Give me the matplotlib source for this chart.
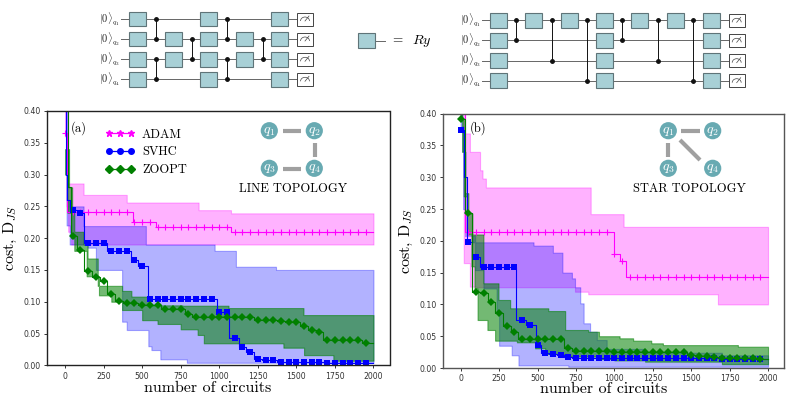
import numpy as np
import matplotlib
matplotlib.use('Agg')
import matplotlib.pyplot as plt
from matplotlib.lines import Line2D
from matplotlib.patches import Circle, Rectangle, Arc

plt.rcParams['mathtext.fontset'] = 'cm'
plt.rcParams['axes.unicode_minus'] = False

W, H = 789, 396
SERIES = ['ADAM', 'SVHC', 'ZOOPT']
COLORS = {'ADAM': 'magenta', 'SVHC': 'blue', 'ZOOPT': 'green'}
MARKERS = {'ADAM': '+', 'SVHC': 's', 'ZOOPT': 'D'}
ALPHAS = {'ADAM': 0.3, 'SVHC': 0.3, 'ZOOPT': 0.55}

# ---- panel (a), step breakpoints
a_adam_x = [0, 15, 440, 590, 1075]
a_adam_y = [0.365, 0.241, 0.225, 0.217, 0.21]
a_adam_hi_x = [0, 20, 119, 400, 865, 1075]
a_adam_hi_y = [0.41, 0.286, 0.268, 0.256, 0.244, 0.239]
a_adam_lo_x = [0, 10, 20, 40]
a_adam_lo_y = [0.36, 0.25, 0.21, 0.19]

a_svhc_x = [0, 5, 15, 30, 75, 125, 275, 425, 475, 535, 985, 1065, 1125, 1175, 1225, 1275, 1375, 1425, 1700]
a_svhc_y = [0.45, 0.30, 0.26, 0.245, 0.24, 0.193, 0.18, 0.166, 0.156, 0.105, 0.0844, 0.0435, 0.028, 0.0214,
            0.0099, 0.0083, 0.0057, 0.0045, 0.003]
a_svhc_hi_x = [0, 10, 25, 119, 524, 970, 1108, 1368]
a_svhc_hi_y = [0.41, 0.26, 0.25, 0.219, 0.19, 0.18, 0.155, 0.15]
a_svhc_lo_x = [0, 10, 30, 146, 200, 370, 400, 540, 560, 617, 790]
a_svhc_lo_y = [0.40, 0.22, 0.19, 0.185, 0.15, 0.0686, 0.0555, 0.03, 0.024, 0.0094, 0.004]

a_zoopt_x = [0, 20, 40, 75, 125, 175, 225, 275, 325, 375, 475, 625, 775, 825, 1225, 1375, 1425, 1525, 1575,
             1625, 1675, 1925]
a_zoopt_y = [0.41, 0.28, 0.2034, 0.182, 0.148, 0.139, 0.1325, 0.1127, 0.1016, 0.0975, 0.0943, 0.088, 0.0807,
             0.076, 0.0707, 0.069, 0.068, 0.0618, 0.055, 0.0524, 0.0398, 0.0345]
a_zoopt_hi_x = [0, 25, 45, 60, 120, 146, 212, 370, 430, 550, 760, 1060, 1545]
a_zoopt_hi_y = [0.34, 0.28, 0.245, 0.21, 0.19, 0.168, 0.125, 0.117, 0.108, 0.0943, 0.0937, 0.09, 0.079]
a_zoopt_lo_x = [0, 15, 40, 60, 140, 220, 300, 370, 500, 600, 750, 860, 900, 1415, 1550, 1740]
a_zoopt_lo_y = [0.30, 0.24, 0.20, 0.18, 0.14, 0.11, 0.10, 0.087, 0.071, 0.065, 0.0566, 0.0477, 0.0346,
                0.0277, 0.016, 0.0072]

# ---- panel (b), step breakpoints
b_adam_x = [0, 25, 1000, 1040, 1075]
b_adam_y = [0.45, 0.2134, 0.18, 0.169, 0.1436]
b_adam_hi_x = [0, 28, 60, 126, 141, 163, 846, 1060]
b_adam_hi_y = [0.41, 0.369, 0.34, 0.311, 0.298, 0.284, 0.242, 0.222]
b_adam_lo_x = [0, 20, 60, 100, 744, 830, 1673]
b_adam_lo_y = [0.39, 0.165, 0.128, 0.127, 0.12, 0.116, 0.10]

b_svhc_x = [0, 20, 40, 75, 125, 358, 425, 488, 525, 575, 625, 675, 725, 1000, 1700]
b_svhc_y = [0.375, 0.30, 0.1977, 0.174, 0.1584, 0.0755, 0.0676, 0.036, 0.023, 0.0222, 0.0209, 0.0178, 0.0165,
            0.016, 0.0142]
b_svhc_hi_x = [0, 10, 30, 75, 473, 599, 662, 723, 744, 777, 799, 842, 885, 950, 1200, 1700]
b_svhc_hi_y = [0.40, 0.34, 0.208, 0.1977, 0.1925, 0.1814, 0.15, 0.141, 0.127, 0.1017, 0.0703, 0.0571, 0.044,
               0.03, 0.024, 0.02]
b_svhc_lo_x = [0, 15, 30, 93, 148, 234, 250, 332, 375, 700]
b_svhc_lo_y = [0.38, 0.25, 0.208, 0.154, 0.125, 0.09, 0.035, 0.02, 0.004, 0.002]

b_zoopt_x = [0, 25, 75, 125, 175, 225, 275, 325, 375, 675, 725, 825, 1000, 1475, 1525, 1625, 1675, 1775, 1925]
b_zoopt_y = [0.392, 0.2433, 0.1195, 0.1175, 0.1043, 0.0865, 0.0655, 0.0562, 0.0456, 0.032, 0.027, 0.0265,
             0.0257, 0.0204, 0.019, 0.0168, 0.0155, 0.015, 0.0142]
b_zoopt_hi_x = [0, 10, 30, 50, 75, 148, 245, 321, 570, 679, 830, 900, 1034, 1121, 1240, 1316, 1803]
b_zoopt_hi_y = [0.40, 0.34, 0.275, 0.243, 0.21, 0.1332, 0.107, 0.0939, 0.0896, 0.0598, 0.057, 0.05, 0.0467,
                0.043, 0.0388, 0.036, 0.0335]
b_zoopt_lo_x = [0, 20, 40, 70, 90, 110, 174, 224, 365, 484, 550, 700, 900, 1000, 1200, 1700]
b_zoopt_lo_y = [0.39, 0.27, 0.21, 0.16, 0.125, 0.0755, 0.0598, 0.043, 0.0404, 0.031, 0.022, 0.018, 0.014,
                0.012, 0.01, 0.006]

PANEL_A = {'ADAM': (a_adam_x, a_adam_y, a_adam_lo_x, a_adam_lo_y, a_adam_hi_x, a_adam_hi_y),
           'SVHC': (a_svhc_x, a_svhc_y, a_svhc_lo_x, a_svhc_lo_y, a_svhc_hi_x, a_svhc_hi_y),
           'ZOOPT': (a_zoopt_x, a_zoopt_y, a_zoopt_lo_x, a_zoopt_lo_y, a_zoopt_hi_x, a_zoopt_hi_y)}
PANEL_B = {'ADAM': (b_adam_x, b_adam_y, b_adam_lo_x, b_adam_lo_y, b_adam_hi_x, b_adam_hi_y),
           'SVHC': (b_svhc_x, b_svhc_y, b_svhc_lo_x, b_svhc_lo_y, b_svhc_hi_x, b_svhc_hi_y),
           'ZOOPT': (b_zoopt_x, b_zoopt_y, b_zoopt_lo_x, b_zoopt_lo_y, b_zoopt_hi_x, b_zoopt_hi_y)}

x_ticks = [0, 250, 500, 750, 1000, 1250, 1500, 1750, 2000]
y_ticks = [0.0, 0.05, 0.10, 0.15, 0.20, 0.25, 0.30, 0.35, 0.40]
GRID = np.arange(0, 2001, 2)
MARK_X = np.arange(0, 2001, 50)


def step_at(xs, bx, by):
    idx = np.searchsorted(bx, xs, side='right') - 1
    return np.asarray(by)[idx]


def draw_panel(ax, panel, tag, tag_x, tag_y, xlabel_at, spine_color):
    for name in SERIES:
        x, y, lo_x, lo_y, hi_x, hi_y = panel[name]
        c = COLORS[name]
        ax.step(x + [2000], y + [y[-1]], where='post', color=c, lw=0.8)
        # markers sit on every 50th circuit, last one at 1950
        mx = MARK_X[:-1]
        ax.plot(mx, step_at(mx, x, y), ls='', marker=MARKERS[name], color=c, ms=4.0 if name != 'ADAM' else 4.5,
                mew=0.8 if name == 'ADAM' else 0)
        ax.fill_between(GRID, step_at(GRID, lo_x, lo_y), step_at(GRID, hi_x, hi_y), color=c,
                        alpha=ALPHAS[name], lw=0.8, step='post')
    ax.set_xlim(-117, 2104)
    ax.set_ylim(0, 0.40)
    ax.set_xticks(x_ticks)
    ax.set_yticks(y_ticks)
    ax.set_yticklabels(['%.2f' % v for v in y_ticks])
    ax.tick_params(labelsize=5.6, length=2.5, width=0.7, pad=2, color='#333333', labelcolor='#333333')
    for s in ax.spines.values():
        s.set_linewidth(1.0)
        s.set_color(spine_color)
    ax.set_xlabel('number of circuits', family='cmr10', fontsize=11.5, va='center')
    ax.xaxis.set_label_coords(*xlabel_at)
    ax.set_ylabel(r'cost, $\mathrm{D}_{JS}$', family='cmr10', fontsize=11.5, labelpad=3)
    ax.text(tag_x, tag_y, tag, family='cmr10', fontsize=9, va='center')


def px_axes(l, t, r, b):
    return fig.add_axes([l / W, 1 - b / H, (r - l) / W, (b - t) / H])


fig = plt.figure(figsize=(W / 100, H / 100), dpi=100)
ax_a = px_axes(47, 111, 389.5, 365.3)
ax_b = px_axes(442.7, 113.7, 784, 368)
draw_panel(ax_a, PANEL_A, '(a)', 40, 0.373, (0.47, -0.088), '#222222')
draw_panel(ax_b, PANEL_B, '(b)', 60, 0.3775, (0.472, -0.082), '#555555')

handles = [Line2D([], [], color='magenta', marker='*', ms=4.5, lw=0.9),
           Line2D([], [], color='blue', marker='o', ms=4, lw=0.9),
           Line2D([], [], color='green', marker='D', ms=3.6, lw=0.9)]
ax_a.legend(handles, SERIES, numpoints=3, frameon=False, loc='upper left', bbox_to_anchor=(0.137, 0.975),
            prop={'family': 'cmr10', 'size': 9}, handlelength=2.4, handletextpad=0.55, labelspacing=0.45)

# overlay in pixel coordinates for the circuits and the topology insets
ov = fig.add_axes([0, 0, 1, 1], zorder=5)
ov.set_xlim(0, W)
ov.set_ylim(H, 0)
ov.axis('off')
ov.patch.set_alpha(0)

GATE_FACE = '#a8d0d6'
GATE_EDGE = '#5f7478'


def gate(x, y, w=17, h=14.5):
    ov.add_patch(Rectangle((x - w / 2, y - h / 2), w, h, fc=GATE_FACE, ec=GATE_EDGE, lw=0.8, zorder=3))


def meter(x, y):
    ov.add_patch(Rectangle((x - 8, y - 6.5), 16, 13, fc='white', ec='#444444', lw=0.7, zorder=3))
    ov.add_patch(Arc((x, y + 2), 9, 8, theta1=180, theta2=360, color='#444444', lw=0.5, zorder=4))
    ov.plot([x, x + 4], [y + 2, y - 3], color='#444444', lw=0.5, zorder=4)


def circuit(wires, x0, x1, label_x, cols, cz, meter_x):
    for i, y in enumerate(wires):
        ov.plot([x0, x1], [y, y], color='#666666', lw=0.7, zorder=1)
        ov.text(label_x, y, r'$|0\rangle_{q_%d}$' % (i + 1), fontsize=7.5, ha='right', va='center', color='#222222')
        meter(meter_x, y)
    for x, qs in cols:
        for q in qs:
            gate(x, wires[q])
    for x, q0, q1 in cz:
        ov.plot([x, x], [wires[q0], wires[q1]], color='#111111', lw=0.7, marker='o', ms=2.5, zorder=2)


circuit([19, 39, 59.3, 79.3], 121, 300, 120,
        [(138, [0, 1, 2, 3]), (173.3, [1, 2]), (209, [0, 1, 2, 3]), (244.3, [1, 2]), (280, [0, 1, 2, 3])],
        [(156, 0, 1), (156, 2, 3), (191.7, 1, 2), (227, 0, 1), (227, 2, 3), (262.7, 1, 2)], 305)
circuit([20.3, 40.3, 60.7, 80.7], 482, 730, 481,
        [(498.3, [0, 1, 2, 3]), (533.7, [0]), (569.3, [0]), (604.7, [0, 1, 2, 3]), (640, [0]), (675.7, [0]),
         (711.3, [0, 1, 2, 3])],
        [(516, 0, 1), (551.7, 0, 2), (587, 0, 3), (622.3, 0, 1), (658, 0, 2), (693.3, 0, 3)], 736.7)

gate(366.7, 40.7, 17, 15)
ov.plot([375, 385], [40.7, 40.7], color='#666666', lw=0.7, zorder=1)
ov.text(397, 41, '=', family='cmr10', fontsize=9.5, ha='center', va='center')
ov.text(421.5, 41, r'$Ry$', fontsize=10, ha='center', va='center')

TOPO_COLOR = '#68aab2'
BAR_COLOR = '#a0a0a0'


def topology(xs, ys, bars, title, title_x):
    pos = [(xs[0], ys[0]), (xs[1], ys[0]), (xs[0], ys[1]), (xs[1], ys[1])]
    for i, (x, y) in enumerate(pos):
        ov.add_patch(Circle((x, y), 8.6, fc=TOPO_COLOR, ec='none', zorder=3))
        ov.text(x, y, r'$q_{%d}$' % (i + 1), color='white', fontsize=10, ha='center', va='center', zorder=4)
    for (x0, y0), (x1, y1) in bars:
        ov.plot([x0, x1], [y0, y1], color=BAR_COLOR, lw=3, solid_capstyle='butt', zorder=3)
    ov.text(title_x, 189, title, family='cmr10', fontsize=9, ha='center', va='center', zorder=4)


topology([269.3, 314.3], [130.7, 168.3],
         [((283, 131), (301, 131)), ((314.7, 143), (314.7, 157)), ((283, 168.5), (301, 168.5))],
         'LINE TOPOLOGY', 293)
topology([668.3, 712.7], [130.7, 168.3],
         [((681, 131), (700, 131)), ((667.6, 143), (667.6, 157)), ((680, 140), (700, 160))],
         'STAR TOPOLOGY', 689.3)

fig.savefig('out.png', dpi=100)
